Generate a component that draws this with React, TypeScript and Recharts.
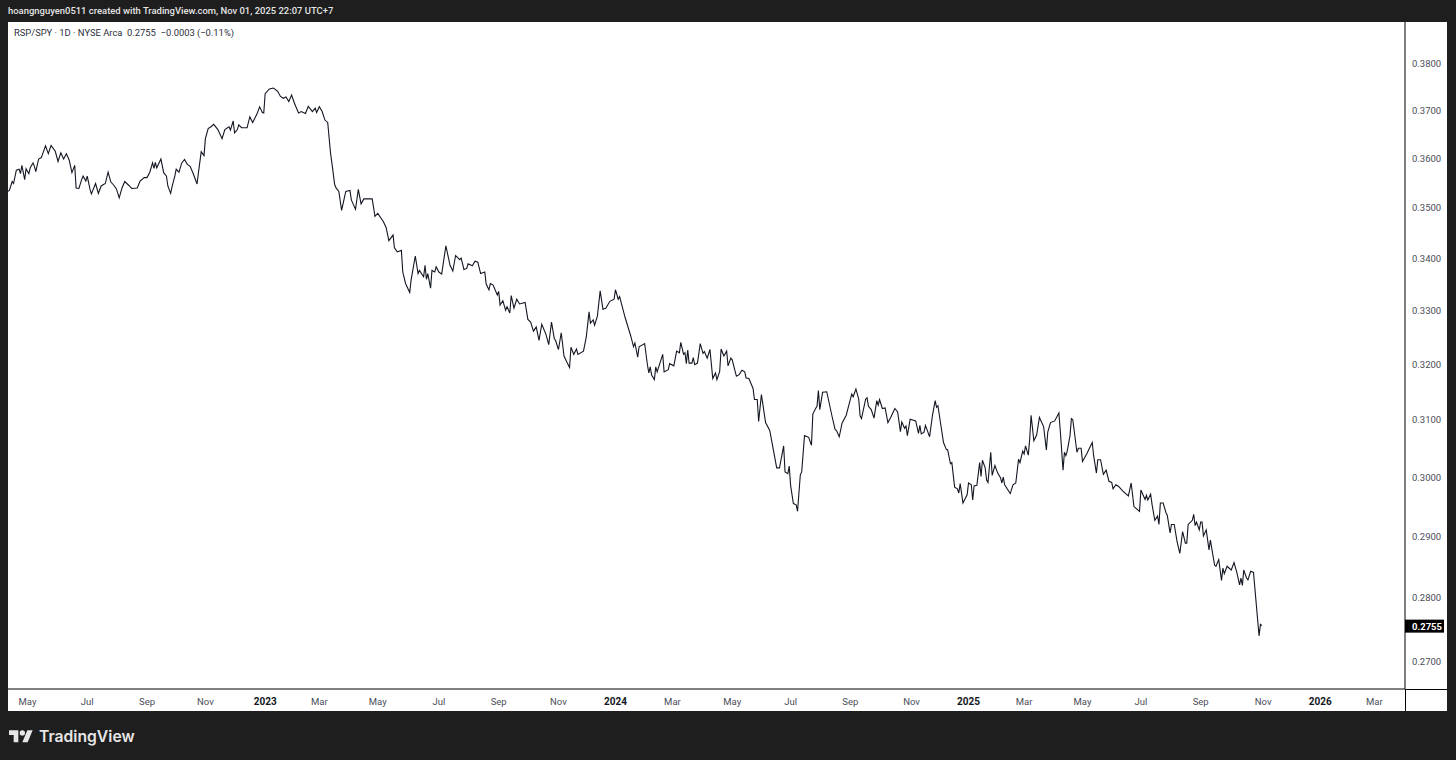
import { LineChart, Line, XAxis, YAxis } from "recharts";

// trading sessions since the left edge of the chart, and the RSP/SPY close at each
const sessions = [
  0, 1, 3, 4, 6, 8, 9, 10, 12, 13,
  15, 16, 18, 19, 20, 22, 24, 25, 27, 29,
  31, 34, 36, 38, 40, 42, 44, 46, 48, 49,
  51, 53, 54, 56, 57, 59, 60, 63, 65, 67,
  70, 72, 74, 76, 78, 80, 82, 84, 87, 89,
  93, 95, 98, 100, 102, 104, 105, 106, 107, 110,
  112, 114, 115, 117, 118, 120, 121, 123, 125, 127,
  129, 131, 133, 136, 137, 139, 141, 142, 144, 146,
  148, 151, 154, 156, 159, 160, 162, 163, 165, 166,
  168, 172, 174, 176, 179, 181, 183, 184, 185, 188,
  191, 194, 196, 198, 200, 202, 204, 206, 209, 211,
  214, 216, 219, 221, 222, 224, 226, 228, 230, 232,
  233, 235, 236, 238, 240, 243, 246, 247, 250, 252,
  254, 256, 262, 264, 266, 270, 272, 274, 277, 278,
  280, 283, 284, 286, 289, 290, 293, 295, 296, 299,
  300, 301, 302, 304, 305, 307, 308, 310, 312, 315,
  318, 320, 322, 325, 326, 328, 330, 331, 334, 336,
  338, 340, 343, 344, 346, 347, 349, 352, 353, 354,
  356, 358, 359, 361, 362, 364, 366, 368, 372, 374,
  376, 378, 380, 382, 384, 387, 389, 391, 393, 394,
  396, 398, 400, 402, 404, 405, 407, 409, 410, 414,
  416, 418, 419, 421, 422, 424, 426, 428, 430, 433,
  436, 437, 439, 440, 444, 448, 450, 451, 453, 454,
  458, 460, 461, 462, 463, 465, 466, 467, 469, 471,
  472, 475, 476, 479, 481, 483, 484, 486, 487, 488,
  489, 490, 492, 493, 494, 496, 498, 500, 501, 503,
  505, 507, 509, 510, 512, 513, 515, 517, 518, 520,
  521, 524, 526, 528, 530, 531, 533, 536, 537, 539,
  540, 542, 545, 548, 553, 555, 558, 559, 561, 562,
  563, 565, 567, 568, 570, 571, 573, 576, 578, 579,
  581, 582, 583, 584, 586, 589, 593, 595, 596, 598,
  600, 603, 605, 607, 608, 610, 612, 613, 614, 617,
  618, 619, 621, 623, 625, 626, 627, 629, 631, 633,
  635, 638, 640, 642, 643, 645, 646, 647, 649, 653,
  655, 656, 657, 659, 660, 663, 665, 667, 668, 669,
  671, 673, 675, 676, 678, 679, 681, 683, 684, 685,
  687, 690, 691, 693, 694, 695, 697, 699, 700, 701,
  703, 704, 705, 707, 708, 710, 712, 714, 715, 716,
  717, 721, 723, 725, 727, 728, 730, 731, 732, 734,
  735, 736, 738, 740, 742, 745, 747, 748, 750, 753,
  756, 757, 759, 760, 761, 762, 764, 765, 766, 769,
  770, 772, 773, 776, 780, 781, 783, 784, 786, 788,
  790, 792, 794, 795, 797, 799, 802, 806, 808, 810,
  814, 815, 818, 819, 820, 822, 823, 825, 827, 828,
  829, 831, 833, 834, 836, 837, 839, 841, 843, 845,
  847, 848, 849, 852, 853, 854, 855, 857, 858, 859,
  860, 862, 864, 865, 868, 869, 871, 873, 874, 875,
  877, 880, 882, 884, 886, 887, 888, 889, 891, 892,
  894, 896, 900, 901, 902,
];

const ratios = [
  0.3531, 0.3533, 0.3551, 0.3547, 0.3574, 0.3576, 0.3567, 0.3584, 0.3555, 0.3577,
  0.3567, 0.3579, 0.3589, 0.3582, 0.3571, 0.3597, 0.36, 0.3608, 0.3624, 0.3608,
  0.3625, 0.3613, 0.3592, 0.361, 0.3597, 0.3608, 0.3595, 0.3569, 0.3584, 0.3538,
  0.3537, 0.3555, 0.3562, 0.3552, 0.3562, 0.3535, 0.3526, 0.3547, 0.3527, 0.3542,
  0.3547, 0.357, 0.355, 0.3544, 0.3536, 0.3518, 0.3538, 0.3551, 0.3543, 0.3537,
  0.3538, 0.3552, 0.3559, 0.3559, 0.357, 0.3589, 0.3578, 0.359, 0.3579, 0.3597,
  0.3569, 0.3562, 0.3542, 0.3527, 0.354, 0.3562, 0.3576, 0.357, 0.3589, 0.3596,
  0.3586, 0.3582, 0.3569, 0.3546, 0.3569, 0.3612, 0.3604, 0.3639, 0.366, 0.3664,
  0.3669, 0.3658, 0.3639, 0.3658, 0.3664, 0.3657, 0.3676, 0.3651, 0.3658, 0.3668,
  0.3662, 0.3662, 0.3685, 0.3673, 0.369, 0.3706, 0.3694, 0.3693, 0.3734, 0.3744,
  0.3746, 0.3739, 0.3728, 0.3724, 0.3727, 0.3717, 0.3731, 0.3714, 0.3693, 0.3696,
  0.3692, 0.3707, 0.3696, 0.3703, 0.3694, 0.3706, 0.3696, 0.3678, 0.3673, 0.361,
  0.3589, 0.3545, 0.3538, 0.3531, 0.3493, 0.3531, 0.3533, 0.3514, 0.3495, 0.3535,
  0.3506, 0.3516, 0.3516, 0.3481, 0.3487, 0.3471, 0.3459, 0.3433, 0.3444, 0.3419,
  0.3411, 0.3414, 0.3372, 0.335, 0.3333, 0.3357, 0.3403, 0.3369, 0.3375, 0.3363,
  0.3385, 0.3358, 0.3369, 0.3341, 0.3375, 0.3372, 0.3382, 0.3372, 0.3368, 0.3423,
  0.3385, 0.3374, 0.3404, 0.3396, 0.3399, 0.3377, 0.3379, 0.3388, 0.3384, 0.3393,
  0.3391, 0.3369, 0.3372, 0.3349, 0.3338, 0.335, 0.3347, 0.3328, 0.3335, 0.3309,
  0.3317, 0.3299, 0.3306, 0.3294, 0.3327, 0.3303, 0.332, 0.3311, 0.3314, 0.3282,
  0.3277, 0.326, 0.3268, 0.3243, 0.3273, 0.3254, 0.3235, 0.3277, 0.3246, 0.3242,
  0.3226, 0.3257, 0.3214, 0.3203, 0.3193, 0.323, 0.3217, 0.3227, 0.3217, 0.3223,
  0.3249, 0.3296, 0.3275, 0.3281, 0.3271, 0.3288, 0.3336, 0.3301, 0.3303, 0.3316,
  0.332, 0.3338, 0.332, 0.3325, 0.3285, 0.3251, 0.3231, 0.3238, 0.3212, 0.3231,
  0.3237, 0.3198, 0.3183, 0.3194, 0.3179, 0.3171, 0.3194, 0.3185, 0.3201, 0.3217,
  0.3185, 0.3189, 0.32, 0.3196, 0.3223, 0.322, 0.3239, 0.3217, 0.322, 0.32,
  0.3225, 0.3201, 0.3201, 0.3211, 0.3198, 0.3201, 0.3237, 0.3219, 0.3222, 0.321,
  0.3226, 0.3173, 0.3183, 0.3171, 0.3186, 0.3227, 0.3214, 0.3223, 0.3196, 0.321,
  0.3207, 0.3177, 0.318, 0.3188, 0.3185, 0.3174, 0.3173, 0.3155, 0.3135, 0.3135,
  0.3096, 0.3144, 0.3094, 0.308, 0.3015, 0.3015, 0.3053, 0.3008, 0.3005, 0.3018,
  0.2985, 0.2954, 0.2952, 0.2941, 0.3003, 0.3008, 0.3071, 0.3068, 0.3054, 0.3109,
  0.3119, 0.3123, 0.3151, 0.3117, 0.3148, 0.3149, 0.3103, 0.3082, 0.308, 0.3069,
  0.3093, 0.3107, 0.3126, 0.3145, 0.314, 0.3154, 0.3136, 0.3106, 0.3101, 0.3136,
  0.3138, 0.3123, 0.3117, 0.3102, 0.3133, 0.3125, 0.3135, 0.3119, 0.312, 0.3094,
  0.3103, 0.3119, 0.3113, 0.3078, 0.3095, 0.3084, 0.3088, 0.3071, 0.31, 0.3097,
  0.3075, 0.3089, 0.3074, 0.3077, 0.3089, 0.3069, 0.3106, 0.3133, 0.3121, 0.3124,
  0.3091, 0.3059, 0.3047, 0.3046, 0.3022, 0.3024, 0.2982, 0.2979, 0.2972, 0.2988,
  0.2955, 0.2969, 0.2989, 0.2986, 0.296, 0.2984, 0.2985, 0.3024, 0.3, 0.3028,
  0.3015, 0.2994, 0.299, 0.3042, 0.3002, 0.3019, 0.3006, 0.2998, 0.2989, 0.2999,
  0.2986, 0.2971, 0.2986, 0.2989, 0.303, 0.3024, 0.3044, 0.3039, 0.3053, 0.3037,
  0.3065, 0.3107, 0.3062, 0.3072, 0.3103, 0.3087, 0.3046, 0.3077, 0.3094, 0.3097,
  0.3111, 0.308, 0.3011, 0.3042, 0.3036, 0.3044, 0.3071, 0.3101, 0.3099, 0.3042,
  0.3049, 0.3049, 0.3026, 0.3039, 0.3059, 0.3036, 0.3006, 0.3029, 0.3029, 0.3004,
  0.3011, 0.2992, 0.299, 0.2979, 0.2986, 0.2983, 0.2975, 0.2967, 0.2989, 0.2949,
  0.2941, 0.2977, 0.2961, 0.2968, 0.296, 0.297, 0.2953, 0.2926, 0.2933, 0.2919,
  0.2955, 0.2955, 0.2939, 0.2934, 0.2905, 0.2919, 0.2919, 0.2891, 0.2871, 0.2907,
  0.2888, 0.2888, 0.2919, 0.2926, 0.2936, 0.2917, 0.2923, 0.291, 0.2923, 0.2923,
  0.29, 0.291, 0.2877, 0.2893, 0.2852, 0.285, 0.2861, 0.2827, 0.2847, 0.2838,
  0.285, 0.2844, 0.2856, 0.284, 0.282, 0.2831, 0.2819, 0.2844, 0.2831, 0.2828,
  0.2842, 0.284, 0.2739, 0.2757, 0.2755,
];

const timeTicks = [
  14, 57, 100, 142, 185, 224, 266, 310, 353, 396, 437, 478,
  521, 563, 606, 650, 691, 731, 773, 815, 858, 903, 944, 983,
];
const timeLabels = [
  "May", "Jul", "Sep", "Nov", "2023", "Mar", "May", "Jul", "Sep", "Nov", "2024", "Mar",
  "May", "Jul", "Sep", "Nov", "2025", "Mar", "May", "Jul", "Sep", "Nov", "2026", "Mar",
];
const priceTicks = [
  0.27, 0.28, 0.29, 0.3, 0.31, 0.32, 0.33, 0.34, 0.35, 0.36, 0.37, 0.38,
];
const lastPrice = 0.2755;

const chartData = sessions.map((session, i) => ({ session, ratio: ratios[i] }));

const AXIS_FONT = "Roboto, sans-serif";

function TimeTick({ x, y, payload }: any) {
  const label = timeLabels[timeTicks.indexOf(payload.value)];
  const isYear = /^\d+$/.test(label);
  return (
    <text
      x={x}
      y={y + 8}
      textAnchor="middle"
      fontFamily={AXIS_FONT}
      fontSize={isYear ? 10 : 9.5}
      fontWeight={isYear ? 700 : 400}
      fill={isYear ? "#131722" : "#4a4e59"}
    >
      {label}
    </text>
  );
}

function PriceTick({ x, y, payload }: any) {
  if (payload.value === lastPrice) {
    return (
      <g>
        <rect x={x - 2} y={y - 6} width={39} height={13} fill="#000000" />
        <text
          x={x + 5}
          y={y + 4}
          fontFamily={AXIS_FONT}
          fontSize={9.5}
          fontWeight={700}
          fill="#ffffff"
        >
          {payload.value.toFixed(4)}
        </text>
      </g>
    );
  }
  return (
    <text
      x={x + 5}
      y={y + 4}
      fontFamily={AXIS_FONT}
      fontSize={9.5}
      fill="#4a4e59"
    >
      {payload.value.toFixed(4)}
    </text>
  );
}

function Logo() {
  return (
    <svg
      width={24}
      height={12.5}
      viewBox="0 4 36 18"
      style={{ position: "absolute", left: 9, top: 730 }}
    >
      <path
        d="M14 22H7V11H0V4h14v18zM28 22h-8l7.5-18h8L28 22z"
        fill="#e6e6e6"
      />
      <circle cx={20} cy={8} r={4} fill="#e6e6e6" />
    </svg>
  );
}

export default function App() {
  return (
    <div
      style={{
        position: "absolute",
        left: 0,
        top: 0,
        width: 1456,
        height: 760,
        background: "#1e1e1e",
        overflow: "hidden",
      }}
    >
      <div
        style={{
          position: "absolute",
          left: 8,
          top: 5,
          fontFamily: "Roboto, sans-serif",
          fontSize: 9.45,
          lineHeight: "12px",
          fontWeight: 500,
          color: "#e4e4e4",
          whiteSpace: "nowrap",
        }}
      >
        hoangnguyen0511 created with TradingView.com, Nov 01, 2025 22:07 UTC+7
      </div>

      <div
        style={{
          position: "absolute",
          left: 8,
          top: 22,
          width: 1439,
          height: 689,
          background: "#ffffff",
        }}
      >
        <LineChart
          width={1439}
          height={689}
          data={chartData}
          margin={{ top: 0, right: 0, bottom: 0, left: 0 }}
        >
          <XAxis
            dataKey="session"
            type="number"
            domain={[0, 1005]}
            ticks={timeTicks}
            interval={0}
            height={22}
            tick={<TimeTick />}
            tickLine={false}
            axisLine={{ stroke: "#000000" }}
          />
          <YAxis
            orientation="right"
            type="number"
            scale="log"
            domain={[0.2657, 0.389]}
            allowDataOverflow
            ticks={[...priceTicks, lastPrice]}
            interval={0}
            width={42}
            tick={<PriceTick />}
            tickLine={false}
            tickSize={0}
            axisLine={{ stroke: "#000000" }}
          />
          <Line
            dataKey="ratio"
            type="linear"
            stroke="#131722"
            strokeWidth={1.1}
            dot={false}
            isAnimationActive={false}
          />
        </LineChart>

        <div
          style={{
            position: "absolute",
            left: 6,
            top: 5,
            fontFamily: "Roboto, sans-serif",
            fontSize: 9.4,
            lineHeight: "12px",
            color: "#2a2e39",
            whiteSpace: "pre",
          }}
        >
          {"RSP/SPY · 1D · NYSE Arca  0.2755  −0.0003 (−0.11%)"}
        </div>

        {/* axis borders run on past the plot into the corner box */}
        <div
          style={{
            position: "absolute",
            left: 1397,
            top: 667,
            width: 42,
            height: 1,
            background: "#000000",
          }}
        />
        <div
          style={{
            position: "absolute",
            left: 1397,
            top: 667,
            width: 1,
            height: 22,
            background: "#000000",
          }}
        />
      </div>

      <Logo />
      <div
        style={{
          position: "absolute",
          left: 39,
          top: 727,
          fontFamily: "Inter, sans-serif",
          fontSize: 15.7,
          lineHeight: "20px",
          fontWeight: 600,
          color: "#e6e6e6",
          whiteSpace: "nowrap",
        }}
      >
        TradingView
      </div>
    </div>
  );
}
